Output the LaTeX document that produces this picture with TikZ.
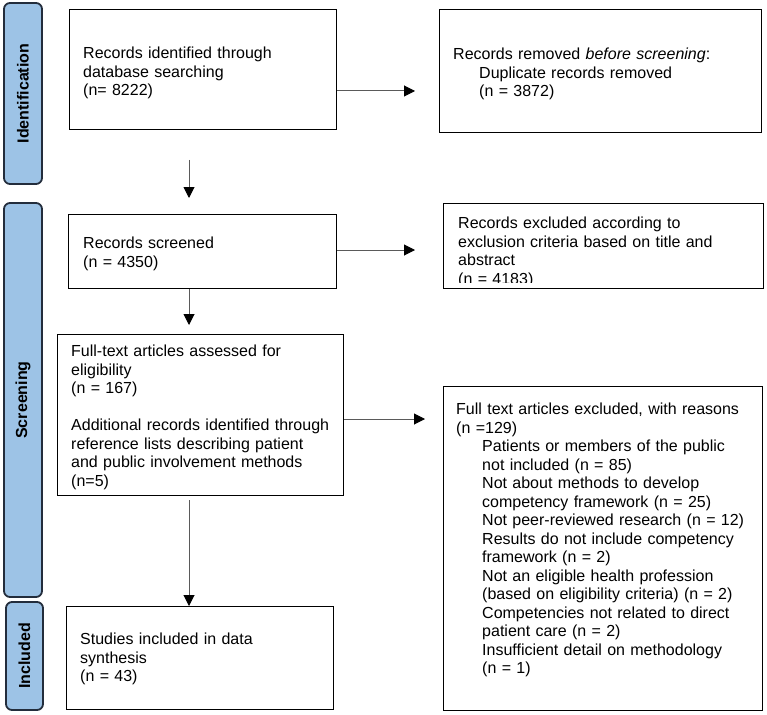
\documentclass[tikz,border=0pt]{standalone}
\usepackage{fontspec}
\setmainfont{Liberation Sans}
\usetikzlibrary{arrows.meta}
\definecolor{phase}{RGB}{157,195,230}
\definecolor{phaseline}{RGB}{35,45,60}
\definecolor{arrline}{RGB}{90,90,90}
\newcommand{\ind}{\hspace*{26pt}}
\begin{document}
\begin{tikzpicture}[x=1pt,y=-1pt,
  box/.style={draw=black, line width=1.4pt, anchor=north west, inner sep=0pt},
  txt/.style={anchor=north west, inner sep=0pt, text width=310pt, align=left, font=\fontsize{16}{18.5}\selectfont},
  phasebox/.style={draw=phaseline, fill=phase, line width=1.8pt, rounded corners=6pt, rotate=90, inner sep=0pt, font=\fontsize{16}{18.5}\selectfont\bfseries},
  arr/.style={draw=arrline, line width=1pt, -{Triangle[length=11pt,width=11pt,color=black]}}]
\useasboundingbox (0,0) rectangle (767,714);

% phase bars
\node[phasebox, minimum width=181pt, minimum height=38pt] (p1) at (23,93.5) {Identification};
\node[phasebox, minimum width=394pt, minimum height=38pt] (p2) at (23,400) {Screening};
\node[phasebox, minimum width=108pt, minimum height=37pt] (p3) at (24.5,656) {Included};

% boxes
\node[box, minimum width=267pt, minimum height=120pt] (b1) at (69,9) {};
\node[box, minimum width=322pt, minimum height=123pt] (b2) at (439,9) {};
\node[box, minimum width=268pt, minimum height=74pt] (b3) at (68,214) {};
\node[box, minimum width=320pt, minimum height=85pt] (b4) at (443,203) {};
\node[box, minimum width=286pt, minimum height=161pt] (b5) at (57,334) {};
\node[box, minimum width=319pt, minimum height=324pt] (b6) at (443,386) {};
\node[box, minimum width=267pt, minimum height=103pt] (b7) at (66,606) {};

% texts
\node[txt] (t1) at (83,47) {Records identified through\\database searching\\(n= 8222)};
\node[txt] (t2) at (453,48) {Records removed \textit{before screening}:\\\ind Duplicate records removed\\\ind (n = 3872)};
\node[txt] (t3) at (83,237) {Records screened\\(n = 4350)};
\begin{scope}
  \clip (b4.north west) rectangle (b4.east |- 0,282);
  \node[txt] (t4) at (458,217) {Records excluded according to\\exclusion criteria based on title and\\abstract\\(n = 4183)};
\end{scope}
\node[txt] (t5) at (71,345) {Full-text articles assessed for\\eligibility\\(n = 167)\\[18.5pt]Additional records identified through\\reference lists describing patient\\and public involvement methods\\(n=5)};
\node[txt] (t6) at (456,403) {Full text articles excluded, with reasons\\(n =129)\\\ind Patients or members of the public\\\ind not included (n = 85)\\\ind Not about methods to develop\\\ind competency framework (n = 25)\\\ind Not peer-reviewed research (n = 12)\\\ind Results do not include competency\\\ind framework (n = 2)\\\ind Not an eligible health profession\\\ind (based on eligibility criteria) (n = 2)\\\ind Competencies not related to direct\\\ind patient care (n = 2)\\\ind Insufficient detail on methodology\\\ind (n = 1)};
\node[txt] (t7) at (80,633) {Studies included in data\\synthesis\\(n = 43)};

% connectors
\coordinate (e1) at (415,91);
\draw[arr] (b1.east |- e1) -- (e1);
\coordinate (c1) at (189,160);
\coordinate (c2) at (189,198);
\draw[arr] (c1) -- (c2);
\coordinate (e3) at (415,250);
\draw[arr] (b3.east |- e3) -- (e3);
\coordinate (c4) at (189,325);
\draw[arr] (c4 |- b3.south) -- (c4);
\coordinate (e5) at (425,419);
\draw[arr] (b5.east |- e5) -- (e5);
\coordinate (c6) at (189,500);
\draw[arr] (c6) -- (c6 |- b7.north);
\end{tikzpicture}
\end{document}
